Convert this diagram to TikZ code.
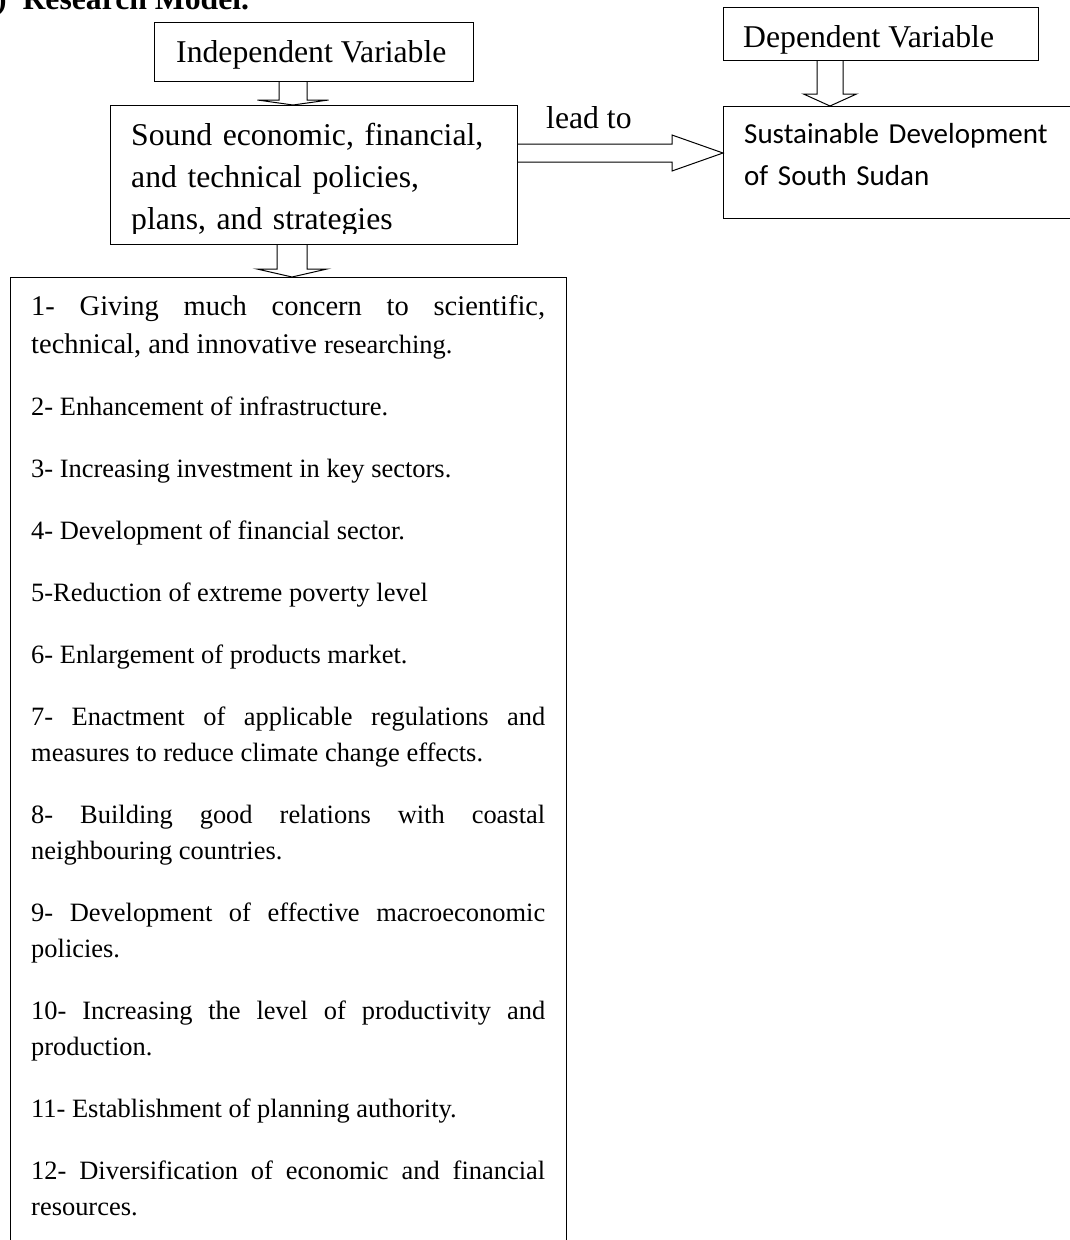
\documentclass[tikz,border=0pt]{standalone}
\usepackage{fontspec}
\setmainfont{Liberation Serif}
\newfontfamily\calibrifont{Carlito}
\usepackage{tikz}
\usetikzlibrary{
    calc,
    positioning
}

\tikzset{
    box/.style={draw, line width=1.2pt, inner sep=0pt, anchor=north west},
    blockarrow/.style={draw, line width=1pt, line join=miter},
    bigtext/.style={inner sep=0pt, anchor=base west, font=\fontsize{31.7}{42}\selectfont},
    para/.style={inner sep=0pt, anchor=north west, align=left}
}

% hollow block arrows: from, to, axis, half shaft, half head, head length
\newcommand{\blockdown}[6]{%
    \draw[blockarrow] let \p1=(#1), \p2=(#2) in
        (#3-#4,\y1) -- (#3-#4,\y2+#6pt) -- (#3-#5,\y2+#6pt) -- (#3,\y2)
        -- (#3+#5,\y2+#6pt) -- (#3+#4,\y2+#6pt) -- (#3+#4,\y1);
}
\newcommand{\blockright}[6]{%
    \draw[blockarrow] let \p1=(#1), \p2=(#2) in
        (\x1,#3-#4) -- (\x2-#6pt,#3-#4) -- (\x2-#6pt,#3-#5) -- (\x2,#3)
        -- (\x2-#6pt,#3+#5) -- (\x2-#6pt,#3+#4) -- (\x1,#3+#4);
}

\begin{document}
\begin{tikzpicture}[x=1pt, y=-1pt]
    \useasboundingbox (0,0) rectangle (1070,1240);

    \node[bigtext, font=\fontsize{31.7}{42}\selectfont\bfseries] (title) at (-4,9) {)\ \ Research Model.};

    % boxes
    \node[box, minimum width=319pt, minimum height=59pt] (indep) at (154,22) {};
    \node[box, minimum width=407pt, minimum height=139pt] (sound) at (110,105) {};
    \node[box, minimum width=556pt, minimum height=1000pt] (factors) at (10,277) {};
    \node[box, minimum width=315pt, minimum height=53pt] (dep) at (723,7) {};
    \node[box, minimum width=360pt, minimum height=112pt] (sustain) at (723,106) {};

    % texts
    \node[bigtext] (indeptext) at (176,62) {Independent Variable};
    \node[bigtext] (deptext) at (743,47) {Dependent Variable};
    \node[bigtext] (leadto) at (546,128) {lead to};
    \begin{scope}
        \clip (sound.north west) rectangle ($(sound.south east)+(0,-12)$);
        \node[para, text width=385pt, font=\fontsize{31.7}{42}\selectfont] (soundtext) at (131,120)
            {\rule{0pt}{25pt}Sound economic, financial,\\ and technical policies,\\ plans, and strategies};
    \end{scope}
    \node[para, text width=330pt, font=\calibrifont\fontsize{29}{42}\selectfont] (sustaintext) at (744,118)
        {\rule{0pt}{25pt}Sustainable Development\\ of South Sudan};

    \node[para, text width=514pt, align=justify, font=\fontsize{26.45}{36}\selectfont] (factorlist) at (31,290) {%
        \setlength{\parskip}{26pt}\setlength{\parindent}{0pt}%
        \hyphenpenalty=10000 \exhyphenpenalty=10000 \hbadness=10000
        {\fontsize{28.5}{38}\selectfont\rule{0pt}{25pt}1- Giving much concern to scientific,\linebreak
        technical, and innovative \fontsize{26.45}{38}\selectfont researching.\par}
        2- Enhancement of infrastructure.\par
        3- Increasing investment in key sectors.\par
        4- Development of financial sector.\par
        5-Reduction of extreme poverty level\par
        6- Enlargement of products market.\par
        7- Enactment of applicable regulations and\linebreak measures to reduce climate change effects.\par
        8- Building good relations with coastal\linebreak neighbouring countries.\par
        9- Development of effective macroeconomic\linebreak policies.\par
        10- Increasing the level of productivity and\linebreak production.\par
        11- Establishment of planning authority.\par
        12- Diversification of economic and financial\linebreak resources.\par
    };

    % arrows
    \blockdown{indep.south}{sound.north}{293}{14}{35.5}{5}
    \blockdown{sound.south}{factors.north}{292}{15}{35}{8}
    \blockdown{dep.south}{sustain.north}{830}{13}{26.5}{12}
    \blockright{sound.east}{sustain.west}{153}{9}{18}{51}
\end{tikzpicture}
\end{document}
